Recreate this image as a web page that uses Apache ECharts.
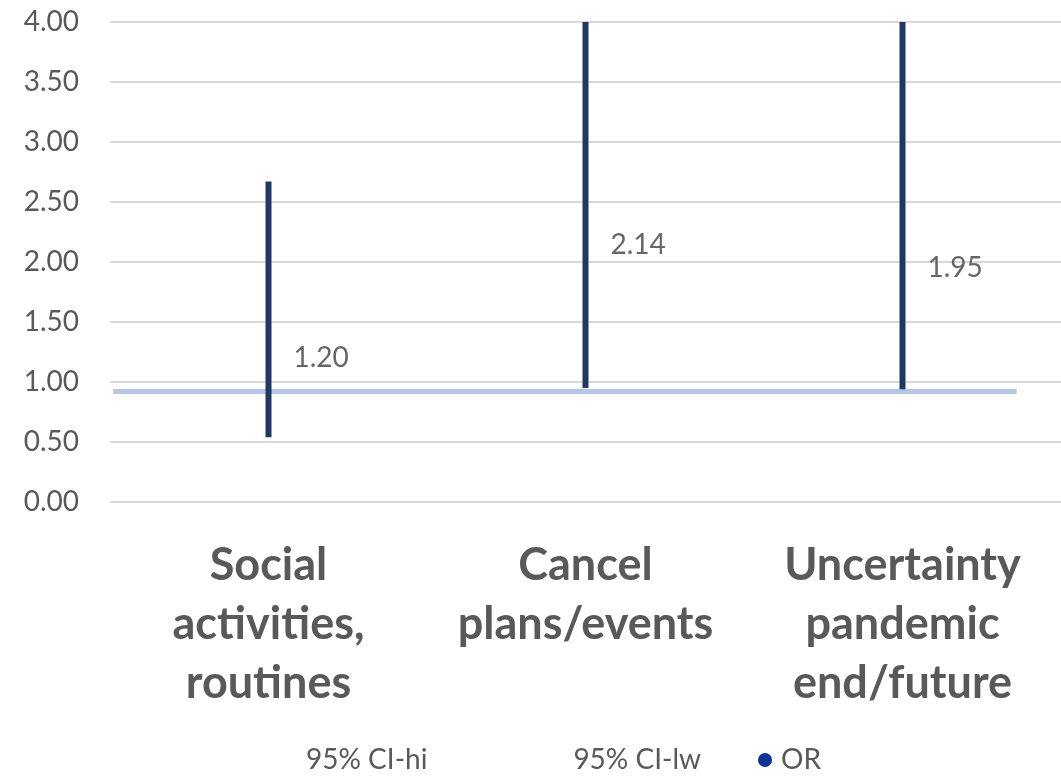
<!DOCTYPE html>
<html>
<head>
<meta charset="utf-8">
<script src="https://cdn.jsdelivr.net/npm/echarts@6/dist/echarts.min.js"></script>
<style>
  html, body { margin: 0; padding: 0; background: #ffffff; }
  #chart { width: 1061px; height: 778px; }
</style>
</head>
<body>
<div id="chart"></div>
<script>
// Categories (wrapped the way they are printed under the axis)
const categories = [
  'Social\nactivities,\nroutines',
  'Cancel\nplans/events',
  'Uncertainty\npandemic\nend/future'
];
// Odds ratios and 95% confidence limits
const orValues = [1.20, 2.14, 1.95];
const ciLow    = [0.54, 0.95, 0.94];
const ciHigh   = [2.67, 4.85, 4.06];
// Value axis ticks
const yMin = 0, yMax = 4, yStep = 0.5;
// Horizontal reference line: level and extent in category units
const refValue = 0.92;
const refSpan = [-0.49, 2.36];

const FONT = 'Lato, "Open Sans", sans-serif';
const chart = echarts.init(document.getElementById('chart'));

chart.setOption({
  animation: false,
  textStyle: { fontFamily: FONT },
  grid: { left: 110, right: 0, top: 22, bottom: 276, containLabel: false },
  xAxis: [
    {
      type: 'category',
      data: categories,
      boundaryGap: true,
      axisLine: { show: false },
      axisTick: { show: false },
      axisLabel: {
        interval: 0,
        margin: 34,
        fontSize: 45,
        fontWeight: 'bold',
        lineHeight: 59,
        color: '#595959',
        fontFamily: FONT
      }
    },
    {
      type: 'value',
      min: -0.5,
      max: 2.5,
      show: false
    }
  ],
  yAxis: {
    type: 'value',
    min: yMin,
    max: yMax,
    interval: yStep,
    axisLine: { show: false },
    axisTick: { show: false },
    splitLine: { lineStyle: { color: '#d9d9d9', width: 2 } },
    axisLabel: {
      margin: 31,
      fontSize: 28,
      color: '#595959',
      fontFamily: FONT,
      formatter: v => v.toFixed(2)
    }
  },
  legend: [
    {
      data: [
        { name: '95% CI-hi', icon: 'rect', itemStyle: { opacity: 0 } },
        { name: '95% CI-lw', icon: 'rect', itemStyle: { opacity: 0 } }
      ],
      left: 286,
      top: 741,
      itemWidth: 10,
      itemHeight: 14,
      itemGap: 131,
      selectedMode: false,
      textStyle: { fontSize: 28, color: '#595959', fontFamily: FONT }
    },
    {
      data: [{ name: 'OR', icon: 'circle', itemStyle: { color: '#0a3299', opacity: 1 } }],
      left: 753,
      top: 741,
      itemWidth: 14,
      itemHeight: 14,
      selectedMode: false,
      textStyle: { fontSize: 28, color: '#595959', fontFamily: FONT, padding: [0, 0, 0, 4] }
    }
  ],
  series: [
    {
      // reference line across the plot
      name: 'ref',
      type: 'line',
      xAxisIndex: 1,
      data: [[refSpan[0], refValue], [refSpan[1], refValue]],
      symbol: 'none',
      lineStyle: { color: '#b4c7e7', width: 5 },
      z: 2,
      silent: true
    },
    {
      // high-low lines for the confidence intervals
      name: 'CI',
      type: 'custom',
      clip: true,
      z: 3,
      data: categories.map((c, i) => [i, ciLow[i], ciHigh[i]]),
      encode: { x: 0, y: [1, 2] },
      renderItem: (params, api) => {
        const lo = api.coord([api.value(0), api.value(1)]);
        const hi = api.coord([api.value(0), api.value(2)]);
        return {
          type: 'line',
          shape: { x1: lo[0], y1: lo[1], x2: hi[0], y2: hi[1] },
          style: { stroke: '#1f3864', lineWidth: 6, lineCap: 'butt' }
        };
      }
    },
    {
      name: '95% CI-hi',
      type: 'scatter',
      data: ciHigh,
      symbolSize: 0,
      itemStyle: { opacity: 0 },
      silent: true
    },
    {
      name: '95% CI-lw',
      type: 'scatter',
      data: ciLow,
      symbolSize: 0,
      itemStyle: { opacity: 0 },
      silent: true
    },
    {
      name: 'OR',
      type: 'scatter',
      data: orValues,
      symbolSize: 0,
      itemStyle: { color: '#0a3299' },
      z: 4,
      label: {
        show: true,
        position: 'right',
        distance: 25,
        fontSize: 28,
        color: '#404040',
        fontFamily: FONT,
        formatter: p => p.value.toFixed(2)
      }
    }
  ]
});
</script>
</body>
</html>
